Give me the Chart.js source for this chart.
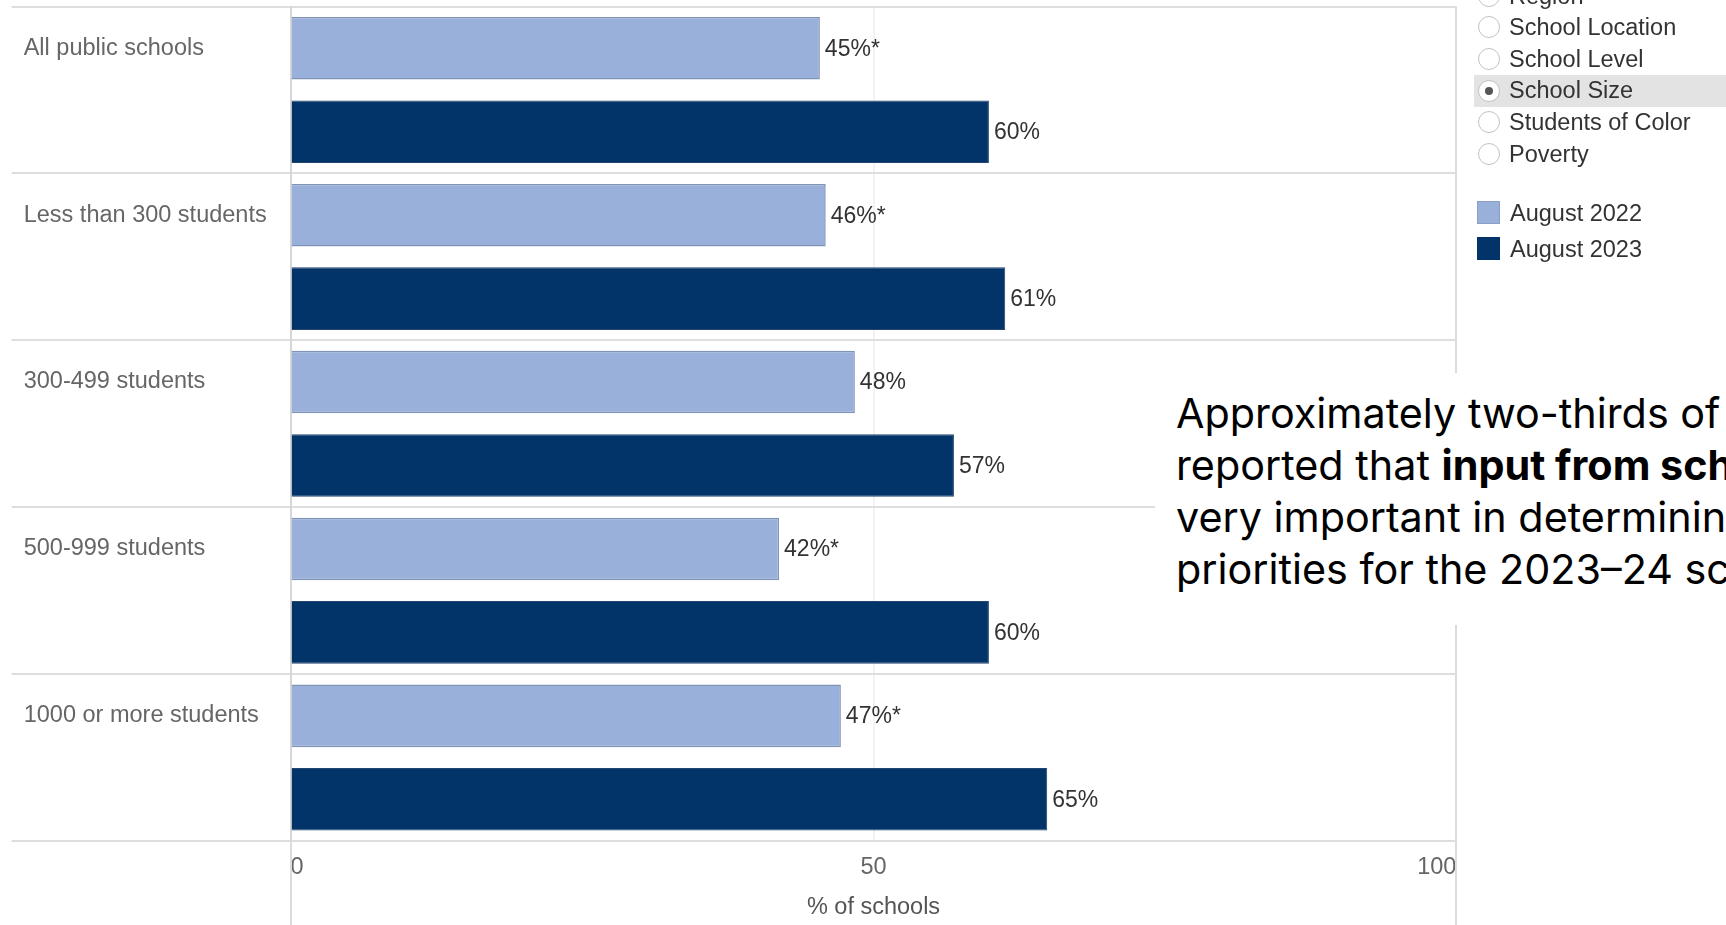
<!DOCTYPE html>
<html><head><meta charset="utf-8">
<script src="https://cdn.jsdelivr.net/npm/chart.js@4.4.1/dist/chart.umd.min.js"></script>
<style>
html,body{margin:0;padding:0;background:#fff;overflow:hidden;width:1726px;height:925px;}
#wrap{position:relative;width:1726px;height:925px;overflow:hidden;background:#fff;}
#c{position:absolute;left:0;top:0;}
.row{position:absolute;left:1474px;width:252px;height:31.6px;font-family:'Liberation Sans',Arial,sans-serif;font-size:23.5px;color:#333;line-height:31.6px;white-space:nowrap;}
.row.sel{background:#e3e3e3;}
.radio{position:absolute;left:4px;top:4.3px;width:20px;height:20px;border:1.5px solid #c2c2c2;border-radius:50%;background:#fff;}
.radio .dot{position:absolute;left:6px;top:6px;width:8px;height:8px;border-radius:50%;background:#555;}
.row .t{position:absolute;left:35px;top:0;}
.sw{position:absolute;left:1477px;width:21px;height:21px;border:1px solid #8a9fc3;}
.lt{position:absolute;left:1510px;font-family:'Liberation Sans',Arial,sans-serif;font-size:23.5px;color:#333;line-height:30px;white-space:nowrap;}
#note{position:absolute;left:1155px;top:373px;width:571px;height:252px;background:#fff;overflow:hidden;}
#note .txt{position:absolute;left:21px;top:14px;font-family:Inter,'Noto Sans',sans-serif;font-size:41.3px;line-height:52px;color:#000;white-space:nowrap;}
</style></head>
<body>
<div id="wrap">
<canvas id="c" width="1726" height="925"></canvas>
<div id="note"><div class="txt">Approximately two-thirds of<br>reported that <b>input from school</b><br>very important in determining<br>priorities for the 2023–24 school</div></div>
</div>
<script>
const categories = ['All public schools','Less than 300 students','300-499 students','500-999 students','1000 or more students'];
const seriesNames = ['August 2022','August 2023'];
const values2022 = [45.4, 45.9, 48.4, 41.9, 47.2];
const values2023 = [59.9, 61.3, 56.9, 59.9, 64.9];
const labels2022 = ['45%*','46%*','48%','42%*','47%*'];
const labels2023 = ['60%','61%','57%','60%','65%'];
const xTickValues = [0, 50, 100];
const xTitle = '% of schools';
const filterOptions = ['Region','School Location','School Level','School Size','Students of Color','Poverty'];
const selectedFilter = 'School Size';

const colors = ['#99b1da', '#02346a'];
const borders = ['#7f93b6', '#24456f'];
const FONT = "'Liberation Sans', Arial, sans-serif";

// filter list + legend (HTML)
const wrap = document.getElementById('wrap');
filterOptions.forEach((name, i) => {
  const r = document.createElement('div');
  r.className = 'row' + (name === selectedFilter ? ' sel' : '');
  r.style.top = (-19.4 + 31.6 * i) + 'px';
  r.innerHTML = '<div class="radio">' + (name === selectedFilter ? '<div class="dot"></div>' : '') + '</div><span class="t"></span>';
  r.querySelector('.t').textContent = name;
  wrap.appendChild(r);
});
seriesNames.forEach((name, i) => {
  const sw = document.createElement('div');
  sw.className = 'sw';
  sw.style.top = (200.5 + 36 * i) + 'px';
  sw.style.background = colors[i];
  if (i === 1) sw.style.borderColor = colors[1];
  wrap.appendChild(sw);
  const t = document.createElement('div');
  t.className = 'lt';
  t.style.top = (197.5 + 36 * i) + 'px';
  t.textContent = name;
  wrap.appendChild(t);
});

const valueLabels = [labels2022, labels2023];
const labelPlugin = {
  id: 'valueLabels',
  afterDatasetsDraw(chart) {
    const ctx = chart.ctx;
    ctx.save();
    ctx.font = '23px ' + FONT;
    ctx.fillStyle = '#333';
    ctx.textAlign = 'left';
    ctx.textBaseline = 'middle';
    chart.data.datasets.forEach((ds, di) => {
      chart.getDatasetMeta(di).data.forEach((el, i) => {
        ctx.fillText(valueLabels[di][i], el.x + 5, el.y + 1);
      });
    });
    ctx.restore();
  }
};
const edgeLines = {
  id: 'edgeLines',
  beforeDatasetsDraw(chart) {
    const ctx = chart.ctx, xs = chart.scales.x, a = chart.chartArea;
    ctx.save();
    ctx.strokeStyle = '#dcdcdc';
    ctx.lineWidth = 2;
    [xs.min, xs.max].forEach(v => {
      const px = Math.round(xs.getPixelForValue(v));
      ctx.beginPath();
      ctx.moveTo(px, a.bottom);
      ctx.lineTo(px, chart.height);
      ctx.stroke();
    });
    ctx.restore();
  }
};

new Chart(document.getElementById('c'), {
  type: 'bar',
  data: {
    labels: categories,
    datasets: [
      { label: seriesNames[0], data: values2022, backgroundColor: colors[0], borderColor: borders[0], borderWidth: 1.5 },
      { label: seriesNames[1], data: values2023, backgroundColor: colors[1], borderColor: borders[1], borderWidth: 1 }
    ]
  },
  options: {
    indexAxis: 'y',
    responsive: false,
    animation: false,
    devicePixelRatio: 1,
    barPercentage: 0.75,
    categoryPercentage: 1.0,
    layout: { padding: { left: 23.7, top: 6.6, right: 269.6, bottom: 0 } },
    plugins: { legend: { display: false }, tooltip: { enabled: false } },
    scales: {
      x: {
        min: 0, max: 100,
        afterBuildTicks: s => { s.ticks = xTickValues.map(v => ({ value: v })); },
        afterFit: s => { s.height = 84; s.paddingLeft = 0; s.paddingRight = 0; },
        ticks: { font: { family: FONT, size: 23.5 }, color: '#666', align: 'inner', padding: 12, maxRotation: 0 },
        grid: { drawTicks: false, lineWidth: 2, color: c => (c.tick && c.tick.value === 50) ? '#f3f3f3' : '#dcdcdc' },
        border: { display: false },
        title: { display: true, text: xTitle, font: { family: FONT, size: 23.5 }, color: '#555', padding: { top: 0, bottom: 3 } }
      },
      y: {
        afterFit: s => { s.width = 290.6 - 23.7; s.paddingTop = 0; s.paddingBottom = 0; },
        ticks: { font: { family: FONT, size: 23.5 }, color: '#666', crossAlign: 'far', labelOffset: -41.8 },
        grid: { offset: true, lineWidth: 2, color: '#dedede', tickColor: '#dedede', tickLength: 279 },
        border: { color: '#d6d6d6', width: 2 }
      }
    }
  },
  plugins: [labelPlugin, edgeLines]
});
</script>
</body></html>
